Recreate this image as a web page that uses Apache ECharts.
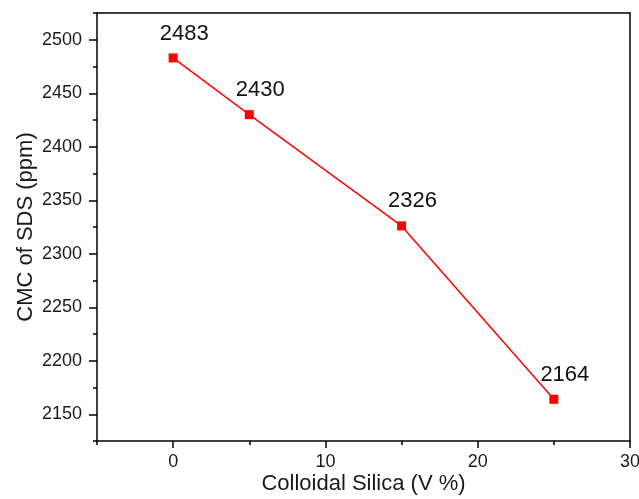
<!DOCTYPE html>
<html>
<head>
<meta charset="utf-8">
<script src="https://cdn.jsdelivr.net/npm/echarts@6/dist/echarts.min.js"></script>
<style>
  html, body { margin: 0; padding: 0; background: #fff; }
  #chart { width: 639px; height: 499px; }
</style>
</head>
<body>
<div id="chart"></div>
<script>
// Colloidal silica volume fraction (V %) and measured CMC of SDS (ppm)
const silicaPercent = [0, 5, 15, 25];
const cmcValues = [2483, 2430, 2326, 2164];

// Labelled (major) ticks on each axis
const xMajorTicks = [0, 10, 20, 30];
const yMajorTicks = [2150, 2200, 2250, 2300, 2350, 2400, 2450, 2500];

const xTitle = 'Colloidal Silica (V %)';
const yTitle = 'CMC of SDS (ppm)';

const font = '"Liberation Sans", Arial, sans-serif';
const black = '#000';
const X_MIN = -5, X_MAX = 30, Y_MIN = 2125, Y_MAX = 2525;

const points = silicaPercent.map((x, i) => [x, cmcValues[i]]);

const chart = echarts.init(document.getElementById('chart'), null, { renderer: 'canvas' });

// plain frame line for the top and right edges
const frameAxis = {
  axisLine: { show: true, onZero: false, lineStyle: { color: black, width: 1.5 } },
  axisTick: { show: false },
  axisLabel: { show: false },
  splitLine: { show: false }
};

// overlay axis that only carries the longer major ticks and their labels
const hiddenLine = { show: false, onZero: false };
const plain = v => String(v);

chart.setOption({
  animation: false,
  backgroundColor: '#fff',
  grid: {
    left: 97, top: 13, right: 9, bottom: 58,
    containLabel: false,
    outerBoundsMode: 'none'
  },
  xAxis: [
    {
      // bottom axis: line, short minor ticks every 5, title
      type: 'value', min: X_MIN, max: X_MAX, interval: 5, position: 'bottom', offset: 0,
      name: xTitle,
      nameLocation: 'middle',
      nameGap: 32,
      nameTextStyle: { fontFamily: font, fontSize: 22, color: '#1a1a1a' },
      axisLine: { onZero: false, lineStyle: { color: black, width: 1.5 } },
      axisTick: { show: true, inside: false, length: 4, lineStyle: { color: black, width: 1.5 } },
      axisLabel: { show: false },
      splitLine: { show: false }
    },
    {
      // bottom overlay: major ticks and labels
      type: 'value', min: X_MIN, max: X_MAX, interval: 5, position: 'bottom', offset: 0,
      axisLine: hiddenLine,
      axisTick: {
        show: true, inside: false, length: 7, customValues: xMajorTicks,
        lineStyle: { color: black, width: 1.5 }
      },
      axisLabel: {
        fontFamily: font, fontSize: 18, color: '#1a1a1a', margin: 12,
        customValues: xMajorTicks, formatter: plain
      },
      splitLine: { show: false }
    },
    Object.assign({ type: 'value', min: X_MIN, max: X_MAX, position: 'top' }, frameAxis)
  ],
  yAxis: [
    {
      // left axis: line, short minor ticks every 25, title
      type: 'value', min: Y_MIN, max: Y_MAX, interval: 25, position: 'left', offset: 0,
      name: yTitle,
      nameLocation: 'middle',
      nameGap: 60,
      nameTextStyle: { fontFamily: font, fontSize: 22, color: '#1a1a1a' },
      axisLine: { onZero: false, lineStyle: { color: black, width: 1.5 } },
      axisTick: { show: true, inside: false, length: 4, lineStyle: { color: black, width: 1.5 } },
      axisLabel: { show: false },
      splitLine: { show: false }
    },
    {
      // left overlay: major ticks and labels
      type: 'value', min: Y_MIN, max: Y_MAX, interval: 25, position: 'left', offset: 0,
      axisLine: hiddenLine,
      axisTick: {
        show: true, inside: false, length: 8, customValues: yMajorTicks,
        lineStyle: { color: black, width: 1.5 }
      },
      axisLabel: {
        fontFamily: font, fontSize: 18, color: '#1a1a1a', margin: 15,
        customValues: yMajorTicks, formatter: plain
      },
      splitLine: { show: false }
    },
    Object.assign({ type: 'value', min: Y_MIN, max: Y_MAX, position: 'right' }, frameAxis)
  ],
  series: [
    {
      type: 'line',
      data: points,
      xAxisIndex: 0,
      yAxisIndex: 0,
      symbol: 'rect',
      symbolSize: 9,
      itemStyle: { color: '#ff0000' },
      lineStyle: { color: '#ff0000', width: 1.5 },
      label: {
        show: true,
        position: 'top',
        distance: 9,
        offset: [11, 0],
        fontFamily: font,
        fontSize: 22,
        color: '#111',
        formatter: p => String(p.value[1])
      }
    }
  ]
});
</script>
</body>
</html>
